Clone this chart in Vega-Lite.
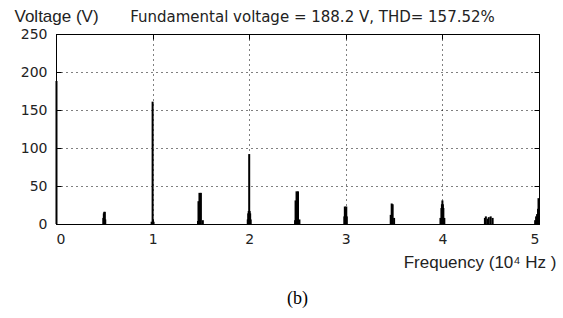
{
  "$schema": "https://vega.github.io/schema/vega-lite/v6.json",
  "width": 483,
  "height": 190,
  "autosize": "none",
  "padding": {"left": 56, "top": 34, "right": 24, "bottom": 94},
  "background": "white",
  "config": {
    "view": {"stroke": "black", "strokeWidth": 1},
    "font": "Liberation Sans"
  },
  "title": {
    "text": "(b)",
    "orient": "bottom",
    "anchor": "middle",
    "font": "Liberation Serif",
    "fontSize": 18,
    "fontWeight": "normal",
    "color": "black",
    "offset": 20
  },
  "data": {
    "values": [
      {"f": 0.005, "v": 188.2},
      {"f": 0.49, "v": 8}, {"f": 0.495, "v": 14}, {"f": 0.5, "v": 16}, {"f": 0.505, "v": 16}, {"f": 0.51, "v": 6},
      {"f": 0.99, "v": 3}, {"f": 1.0, "v": 161}, {"f": 1.01, "v": 3},
      {"f": 1.47, "v": 4}, {"f": 1.475, "v": 30}, {"f": 1.485, "v": 41}, {"f": 1.5, "v": 41}, {"f": 1.52, "v": 5},
      {"f": 1.985, "v": 6}, {"f": 1.99, "v": 14}, {"f": 1.995, "v": 17}, {"f": 2.0, "v": 92}, {"f": 2.005, "v": 17}, {"f": 2.01, "v": 14}, {"f": 2.015, "v": 6},
      {"f": 2.475, "v": 5}, {"f": 2.48, "v": 31}, {"f": 2.49, "v": 43}, {"f": 2.505, "v": 43}, {"f": 2.52, "v": 6},
      {"f": 2.985, "v": 10}, {"f": 2.99, "v": 23}, {"f": 2.995, "v": 20}, {"f": 3.0, "v": 18}, {"f": 3.005, "v": 23}, {"f": 3.01, "v": 10},
      {"f": 3.465, "v": 12}, {"f": 3.475, "v": 27}, {"f": 3.485, "v": 26}, {"f": 3.5, "v": 8},
      {"f": 3.98, "v": 8}, {"f": 3.99, "v": 21}, {"f": 3.995, "v": 26}, {"f": 4.0, "v": 31}, {"f": 4.005, "v": 26}, {"f": 4.01, "v": 21}, {"f": 4.02, "v": 8},
      {"f": 4.44, "v": 8}, {"f": 4.45, "v": 10}, {"f": 4.47, "v": 7}, {"f": 4.48, "v": 9}, {"f": 4.5, "v": 10}, {"f": 4.52, "v": 8},
      {"f": 4.96, "v": 5}, {"f": 4.97, "v": 10}, {"f": 4.98, "v": 13}, {"f": 4.99, "v": 20}, {"f": 4.995, "v": 34}
    ]
  },
  "layer": [
    {
      "mark": {"type": "rule", "color": "black", "strokeWidth": 2},
      "encoding": {
        "x": {
          "field": "f", "type": "quantitative",
          "scale": {"domain": [0, 5], "nice": false, "zero": false},
          "axis": {
            "orient": "bottom",
            "values": [0, 1, 2, 3, 4, 5],
            "grid": true, "gridDash": [1, 4], "gridColor": "black", "gridOpacity": 1, "gridWidth": 1,
            "domainColor": "black", "domainWidth": 1,
            "ticks": true, "tickSize": -5, "tickColor": "black",
            "labelPadding": 13, "labelFontSize": 14, "labelColor": "#222", "labelFont": "DejaVu Sans",
            "title": "Frequency (10⁴ Hz )",
            "titleFont": "Liberation Sans", "titleFontSize": 17, "titleFontWeight": "normal", "titleColor": "#222",
            "titleAnchor": "end", "titleAlign": "right", "titleX": 500, "titleY": 38, "titleBaseline": "middle"
          }
        },
        "y": {
          "field": "v", "type": "quantitative",
          "scale": {"domain": [0, 250], "nice": false},
          "axis": {
            "orient": "left",
            "values": [0, 50, 100, 150, 200, 250],
            "grid": true, "gridDash": [1, 4], "gridColor": "black", "gridOpacity": 1, "gridWidth": 1,
            "domainColor": "black", "domainWidth": 1,
            "ticks": true, "tickSize": -5, "tickColor": "black",
            "labelPadding": 14, "labelFontSize": 14, "labelColor": "#222", "labelFont": "DejaVu Sans",
            "title": "Voltage (V)",
            "titleFont": "Liberation Sans", "titleFontSize": 17, "titleFontWeight": "normal", "titleColor": "#222",
            "titleAngle": 0, "titleAlign": "left", "titleAnchor": "start", "titleX": -42, "titleY": -18, "titleBaseline": "middle"
          }
        },
        "y2": {"datum": 0}
      }
    },
    {
      "mark": {"type": "rule", "opacity": 0},
      "encoding": {
        "x": {
          "field": "f", "type": "quantitative",
          "scale": {"domain": [0, 5], "nice": false, "zero": false},
          "axis": {
            "orient": "top",
            "values": [0, 1, 2, 3, 4, 5],
            "labels": false, "grid": false,
            "domainColor": "black", "tickSize": -5, "tickColor": "black",
            "title": "Fundamental voltage = 188.2 V, THD= 157.52%",
            "titleFont": "DejaVu Sans", "titleFontSize": 15, "titleFontWeight": "normal", "titleColor": "#222",
            "titleAnchor": "middle", "titleAlign": "center", "titleX": 256, "titleY": -18, "titleBaseline": "middle"
          }
        },
        "y": {
          "field": "v", "type": "quantitative",
          "scale": {"domain": [0, 250], "nice": false},
          "axis": {
            "orient": "right",
            "values": [0, 50, 100, 150, 200, 250],
            "labels": false, "grid": false, "title": null,
            "domainColor": "black", "tickSize": -5, "tickColor": "black"
          }
        }
      }
    }
  ],
  "resolve": {"axis": {"x": "independent", "y": "independent"}}
}
